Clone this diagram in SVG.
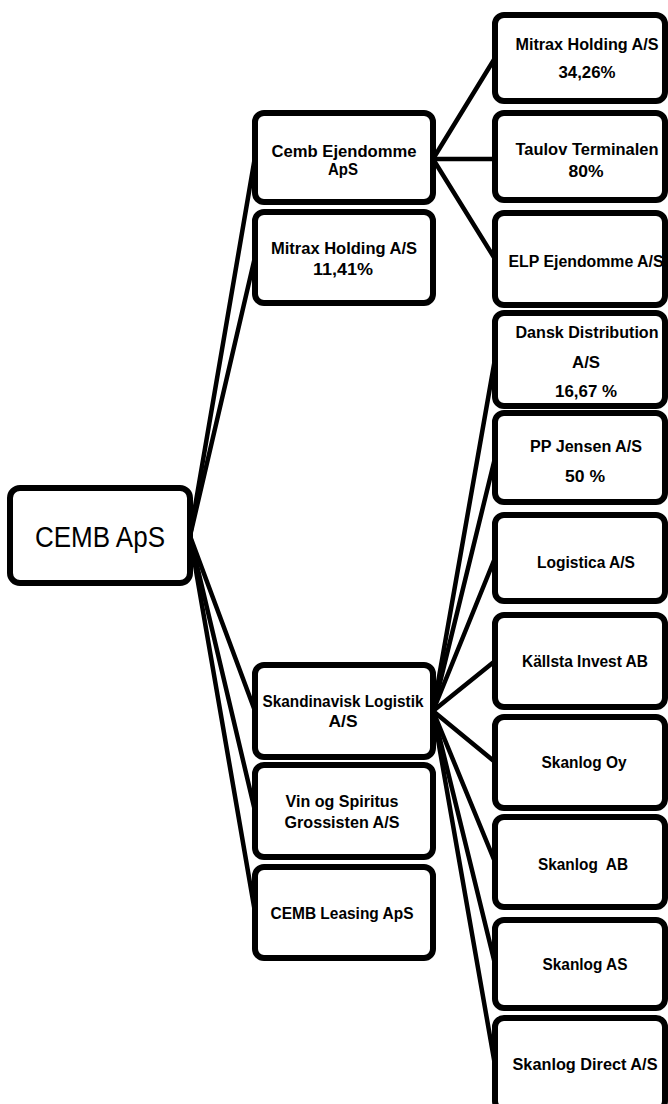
<svg xmlns="http://www.w3.org/2000/svg" width="668" height="1104" viewBox="0 0 668 1104">
<style>
.box{fill:#fff;stroke:#000;stroke-width:6}
.c{stroke:#000;stroke-width:4.5;fill:none;stroke-linecap:round}
.t{font-family:"Liberation Sans",Arial,sans-serif;font-weight:bold;font-size:16px;fill:#000;text-anchor:middle}
.big{font-family:"Liberation Sans",Arial,sans-serif;font-size:29px;fill:#000;text-anchor:middle}
</style>
<rect width="668" height="1104" fill="#fff"/>
<g id="connectors">
<line class="c" x1="190" y1="536" x2="255" y2="157"/>
<line class="c" x1="190" y1="536" x2="255" y2="257"/>
<line class="c" x1="190" y1="536" x2="255" y2="711"/>
<line class="c" x1="190" y1="536" x2="255" y2="811"/>
<line class="c" x1="190" y1="536" x2="255" y2="912"/>
<line class="c" x1="433" y1="159" x2="495" y2="58"/>
<line class="c" x1="433" y1="159" x2="495" y2="159"/>
<line class="c" x1="433" y1="159" x2="495" y2="259"/>
<line class="c" x1="433" y1="711" x2="495" y2="359"/>
<line class="c" x1="433" y1="711" x2="495" y2="458"/>
<line class="c" x1="433" y1="711" x2="495" y2="558"/>
<line class="c" x1="433" y1="711" x2="495" y2="661"/>
<line class="c" x1="433" y1="711" x2="495" y2="762"/>
<line class="c" x1="433" y1="711" x2="495" y2="862"/>
<line class="c" x1="433" y1="711" x2="495" y2="964"/>
<line class="c" x1="433" y1="711" x2="495" y2="1065"/>
</g>
<g id="cemb-aps">
<rect class="box" x="10" y="488" width="180" height="95" rx="10"/>
<text class="big" x="100" y="547" textLength="130" lengthAdjust="spacingAndGlyphs">CEMB ApS</text>
</g>
<g id="cemb-ejendomme">
<rect class="box" x="255" y="113" width="178" height="89" rx="9"/>
<text class="t" x="344" y="157" textLength="145" lengthAdjust="spacingAndGlyphs">Cemb Ejendomme</text>
<text class="t" x="343" y="175" textLength="30" lengthAdjust="spacingAndGlyphs">ApS</text>
</g>
<g id="mitrax-11">
<rect class="box" x="255" y="212" width="178" height="91" rx="9"/>
<text class="t" x="344" y="254" textLength="146" lengthAdjust="spacingAndGlyphs">Mitrax Holding A/S</text>
<text class="t" x="343" y="275" textLength="60" lengthAdjust="spacingAndGlyphs">11,41%</text>
</g>
<g id="skandinavisk">
<rect class="box" x="255" y="665" width="178" height="92" rx="9"/>
<text class="t" x="343" y="707" textLength="161" lengthAdjust="spacingAndGlyphs">Skandinavisk Logistik</text>
<text class="t" x="343" y="727" textLength="29" lengthAdjust="spacingAndGlyphs">A/S</text>
</g>
<g id="vin-og-spiritus">
<rect class="box" x="255" y="765" width="178" height="92" rx="9"/>
<text class="t" x="342" y="807" textLength="113" lengthAdjust="spacingAndGlyphs">Vin og Spiritus</text>
<text class="t" x="342" y="828" textLength="115" lengthAdjust="spacingAndGlyphs">Grossisten A/S</text>
</g>
<g id="cemb-leasing">
<rect class="box" x="255" y="867" width="178" height="91" rx="9"/>
<text class="t" x="342" y="919" textLength="143" lengthAdjust="spacingAndGlyphs">CEMB Leasing ApS</text>
</g>
<g id="mitrax-34">
<rect class="box" x="495" y="15" width="170" height="86" rx="9"/>
<text class="t" x="587" y="50" textLength="143" lengthAdjust="spacingAndGlyphs">Mitrax Holding A/S</text>
<text class="t" x="587" y="78" textLength="57" lengthAdjust="spacingAndGlyphs">34,26%</text>
</g>
<g id="taulov">
<rect class="box" x="495" y="113" width="170" height="87" rx="9"/>
<text class="t" x="587" y="155" textLength="143" lengthAdjust="spacingAndGlyphs">Taulov Terminalen</text>
<text class="t" x="586" y="177" textLength="35" lengthAdjust="spacingAndGlyphs">80%</text>
</g>
<g id="elp">
<rect class="box" x="495" y="213" width="170" height="92" rx="9"/>
<text class="t" x="586" y="267" textLength="155" lengthAdjust="spacingAndGlyphs">ELP Ejendomme A/S</text>
</g>
<g id="dansk">
<rect class="box" x="495" y="313" width="170" height="93" rx="9"/>
<text class="t" x="587" y="338" textLength="143" lengthAdjust="spacingAndGlyphs">Dansk Distribution</text>
<text class="t" x="586" y="368" textLength="28" lengthAdjust="spacingAndGlyphs">A/S</text>
<text class="t" x="586" y="397" textLength="62" lengthAdjust="spacingAndGlyphs">16,67 %</text>
</g>
<g id="pp-jensen">
<rect class="box" x="495" y="413" width="170" height="89" rx="9"/>
<text class="t" x="586" y="452" textLength="112" lengthAdjust="spacingAndGlyphs">PP Jensen A/S</text>
<text class="t" x="585" y="482" textLength="40" lengthAdjust="spacingAndGlyphs">50 %</text>
</g>
<g id="logistica">
<rect class="box" x="495" y="515" width="170" height="86" rx="9"/>
<text class="t" x="586" y="568" textLength="98" lengthAdjust="spacingAndGlyphs">Logistica A/S</text>
</g>
<g id="kallsta">
<rect class="box" x="495" y="615" width="170" height="92" rx="9"/>
<text class="t" x="585" y="667" textLength="126" lengthAdjust="spacingAndGlyphs">Källsta Invest AB</text>
</g>
<g id="skanlog-oy">
<rect class="box" x="495" y="717" width="170" height="91" rx="9"/>
<text class="t" x="584" y="768" textLength="85" lengthAdjust="spacingAndGlyphs">Skanlog Oy</text>
</g>
<g id="skanlog-ab">
<rect class="box" x="495" y="817" width="170" height="90" rx="9"/>
<text class="t" x="583" y="870" textLength="90" lengthAdjust="spacingAndGlyphs" xml:space="preserve">Skanlog  AB</text>
</g>
<g id="skanlog-as">
<rect class="box" x="495" y="920" width="170" height="88" rx="9"/>
<text class="t" x="585" y="970" textLength="85" lengthAdjust="spacingAndGlyphs">Skanlog AS</text>
</g>
<g id="skanlog-direct">
<rect class="box" x="495" y="1018" width="170" height="92" rx="9"/>
<text class="t" x="585" y="1070" textLength="145" lengthAdjust="spacingAndGlyphs">Skanlog Direct A/S</text>
</g>
</svg>
